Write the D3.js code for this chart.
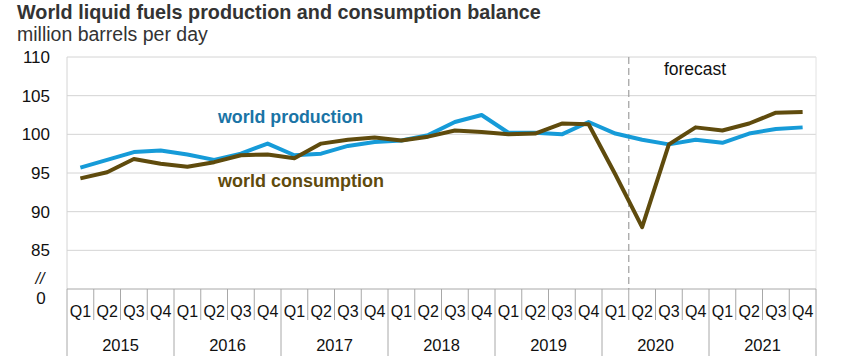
<!DOCTYPE html>
<html>
<head>
<meta charset="utf-8">
<script src="https://cdn.jsdelivr.net/npm/d3@7"></script>
<style>
  body { margin: 0; background: #fff; }
  text { font-family: "Liberation Sans", Arial, sans-serif; }
</style>
</head>
<body>
<div id="chart"></div>
<script>
// data (million barrels per day)
const years = ['2015', '2016', '2017', '2018', '2019', '2020', '2021'];
const quarters = ['Q1', 'Q2', 'Q3', 'Q4'];
const production = [
  95.7, 96.7, 97.7, 97.9,
  97.4, 96.7, 97.5, 98.8,
  97.3, 97.5, 98.5, 99.0,
  99.2, 99.9, 101.6, 102.5,
  100.2, 100.2, 100.0, 101.6,
  100.1, 99.3, 98.7, 99.3,
  98.9, 100.1, 100.7, 100.9
];
const consumption = [
  94.3, 95.1, 96.8, 96.2,
  95.8, 96.4, 97.3, 97.4,
  96.9, 98.8, 99.3, 99.6,
  99.2, 99.7, 100.5, 100.3,
  100.0, 100.1, 101.4, 101.3,
  94.8, 88.0, 98.7, 100.9,
  100.5, 101.4, 102.8, 102.9
];
const yTicks = [85, 90, 95, 100, 105, 110];
const forecastStart = '2020 Q2';

const width = 863, height = 364;
const margin = { left: 67, right: 47, top: 57, bottom: 75 };

const labels = [];
years.forEach(y => quarters.forEach(q => labels.push(y + ' ' + q)));

const svg = d3.select('#chart').append('svg')
  .attr('width', width)
  .attr('height', height);

const x = d3.scaleBand()
  .domain(labels)
  .range([margin.left, width - margin.right]);

const y = d3.scaleLinear()
  .domain([80, 110])
  .range([height - margin.bottom, margin.top]);

// title
svg.append('text')
  .attr('x', 17).attr('y', 19)
  .style('font-size', '19.8px').style('font-weight', 'bold').attr('fill', '#333')
  .text('World liquid fuels production and consumption balance');
svg.append('text')
  .attr('x', 17).attr('y', 41)
  .style('font-size', '19.5px').attr('fill', '#333')
  .text('million barrels per day');

// gridlines
svg.append('g').selectAll('line')
  .data(yTicks)
  .join('line')
  .attr('x1', margin.left).attr('x2', width - margin.right)
  .attr('y1', d => y(d)).attr('y2', d => y(d))
  .attr('stroke', '#d4d4d4').attr('stroke-width', 1);

// frame
svg.append('line')
  .attr('x1', margin.left).attr('x2', margin.left)
  .attr('y1', y(110)).attr('y2', y(80))
  .attr('stroke', '#d4d4d4');
svg.append('line')
  .attr('x1', width - margin.right).attr('x2', width - margin.right)
  .attr('y1', y(110)).attr('y2', y(80))
  .attr('stroke', '#e2e2e2');

// y axis labels
const yAxis = d3.axisLeft(y).tickValues(yTicks).tickSize(0).tickPadding(17);
svg.append('g')
  .attr('transform', `translate(${margin.left},0)`)
  .call(yAxis)
  .call(g => g.select('.domain').remove())
  .call(g => g.selectAll('text').style('font-size', '17px').attr('fill', '#111').attr('font-family', null));

svg.append('text')
  .attr('x', 40).attr('y', 284)
  .attr('text-anchor', 'middle')
  .style('font-size', '16px').style('font-style', 'italic').attr('fill', '#111')
  .text('//');
svg.append('text')
  .attr('x', 41).attr('y', 304)
  .attr('text-anchor', 'middle')
  .style('font-size', '17px').attr('fill', '#111')
  .text('0');

// x axis: quarter and year rows
const axisY = y(80);
const sepColor = '#a8a8a8';
svg.append('line')
  .attr('x1', margin.left).attr('x2', width - margin.right)
  .attr('y1', axisY).attr('y2', axisY)
  .attr('stroke', sepColor);

const xg = svg.append('g');
xg.selectAll('line.q')
  .data(labels)
  .join('line')
  .attr('class', 'q')
  .attr('x1', d => x(d)).attr('x2', d => x(d))
  .attr('y1', axisY)
  .attr('y2', d => d.endsWith('Q1') ? axisY + 67 : axisY + 31)
  .attr('stroke', sepColor);
xg.append('line')
  .attr('x1', width - margin.right).attr('x2', width - margin.right)
  .attr('y1', axisY).attr('y2', axisY + 67)
  .attr('stroke', sepColor);

xg.selectAll('text.q')
  .data(labels)
  .join('text')
  .attr('class', 'q')
  .attr('x', d => x(d) + x.bandwidth() / 2)
  .attr('y', axisY + 28)
  .attr('text-anchor', 'middle')
  .style('font-size', '16px').attr('fill', '#111')
  .text(d => d.split(' ')[1]);

xg.selectAll('text.yr')
  .data(years)
  .join('text')
  .attr('class', 'yr')
  .attr('x', d => x(d + ' Q1') + x.bandwidth() * 2)
  .attr('y', axisY + 62)
  .attr('text-anchor', 'middle')
  .style('font-size', '16.5px').attr('fill', '#111')
  .text(d => d);

// forecast divider
const fx = x(forecastStart);
svg.append('line')
  .attr('x1', fx).attr('x2', fx)
  .attr('y1', y(110)).attr('y2', axisY)
  .attr('stroke', '#a6a6a6').attr('stroke-width', 1.3)
  .attr('stroke-dasharray', '7,4');
svg.append('text')
  .attr('x', 695).attr('y', 75)
  .attr('text-anchor', 'middle')
  .style('font-size', '17.5px').attr('fill', '#111')
  .text('forecast');

// lines
const line = d3.line()
  .x((d, i) => x(labels[i]) + x.bandwidth() / 2)
  .y(d => y(d));

svg.append('path')
  .datum(production)
  .attr('fill', 'none')
  .attr('stroke', '#169bd8')
  .attr('stroke-width', 4)
  .attr('stroke-linejoin', 'round')
  .attr('d', line);

svg.append('path')
  .datum(consumption)
  .attr('fill', 'none')
  .attr('stroke', '#5f4b0d')
  .attr('stroke-width', 4)
  .attr('stroke-linejoin', 'round')
  .attr('d', line);

// series labels
svg.append('text')
  .attr('x', 218).attr('y', 123)
  .style('font-size', '17.8px').style('font-weight', 'bold').attr('fill', '#1a74a6')
  .text('world production');
svg.append('text')
  .attr('x', 218).attr('y', 187)
  .style('font-size', '18px').style('font-weight', 'bold').attr('fill', '#5f4b0d')
  .text('world consumption');
</script>
</body>
</html>
